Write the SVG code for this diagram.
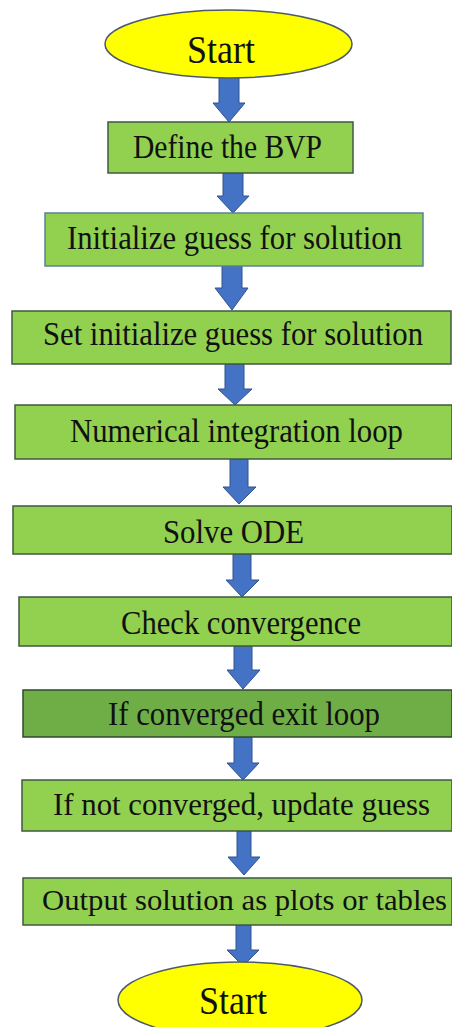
<svg xmlns="http://www.w3.org/2000/svg" width="452" height="1027" viewBox="0 0 452 1027">
<style>
.term{fill:#FFFF00;stroke:#4a5a6a;stroke-width:1.5}
.box{fill:#92D050;stroke:#3f5a40;stroke-width:1.5}
.box2{fill:#92D050;stroke:#5b819b;stroke-width:1.5}
.dark{fill:#6FAD47;stroke:#2f4a2f;stroke-width:1.5}
.arr{fill:#4472C4;stroke:#2F528F;stroke-width:1}
.t{font-family:"Liberation Serif","Times New Roman",serif;fill:#111;font-size:33px}
.ts{font-size:39px}
.tm{font-size:31px}
.tn{font-size:30px}
</style>
<rect width="452" height="1027" fill="#ffffff"/>
<g id="connectors">
<path class="arr" d="M219,77 H239 V103 H245 L229,122 L213,103 H219 Z"/>
<path class="arr" d="M223,173 H243 V196 H249 L233,213 L217,196 H223 Z"/>
<path class="arr" d="M222,266 H242 V288 H248 L232,310 L215,288 H222 Z"/>
<path class="arr" d="M225,364 H244 V389 H252 L235,405 L218,389 H225 Z"/>
<path class="arr" d="M230,459 H248 V487 H256 L239,504 L223,487 H230 Z"/>
<path class="arr" d="M233,554 H251 V580 H259 L242,597 L226,580 H233 Z"/>
<path class="arr" d="M234,646 H252 V670 H260 L243,689 L227,670 H234 Z"/>
<path class="arr" d="M234,737 H252 V763 H259 L243,780 L227,763 H234 Z"/>
<path class="arr" d="M237,831 H251 V857 H260 L244,875 L228,857 H237 Z"/>
<path class="arr" d="M236,925 H251 V950 H259 L243,966 L227,950 H236 Z"/>
</g>
<g id="start-top">
<ellipse class="term" cx="228.5" cy="44" rx="123.5" ry="34"/>
<text class="t ts" x="187" y="63" textLength="68" lengthAdjust="spacingAndGlyphs">Start</text>
</g>
<g id="define-bvp">
<rect class="box" x="108" y="122" width="245" height="51"/>
<text class="t" x="133" y="158" textLength="189" lengthAdjust="spacingAndGlyphs">Define the BVP</text>
</g>
<g id="initialize-guess">
<rect class="box2" x="45" y="213" width="378" height="53"/>
<text class="t" x="67" y="249" textLength="335" lengthAdjust="spacingAndGlyphs">Initialize guess for solution</text>
</g>
<g id="set-initialize-guess">
<rect class="box" x="12" y="311" width="439" height="53"/>
<text class="t" x="43" y="345" textLength="380" lengthAdjust="spacingAndGlyphs">Set initialize guess for solution</text>
</g>
<g id="numerical-loop">
<rect class="box" x="15" y="405" width="437" height="54"/>
<text class="t" x="70" y="442" textLength="333" lengthAdjust="spacingAndGlyphs">Numerical integration loop</text>
</g>
<g id="solve-ode">
<rect class="box" x="13" y="506" width="439" height="48"/>
<text class="t" x="163" y="543" textLength="141" lengthAdjust="spacingAndGlyphs">Solve ODE</text>
</g>
<g id="check-convergence">
<rect class="box" x="19" y="597" width="433" height="49"/>
<text class="t" x="121" y="634" textLength="240" lengthAdjust="spacingAndGlyphs">Check convergence</text>
</g>
<g id="converged-exit">
<rect class="dark" x="23" y="690" width="429" height="47"/>
<text class="t" x="108" y="725" textLength="272" lengthAdjust="spacingAndGlyphs">If converged exit loop</text>
</g>
<g id="update-guess">
<rect class="box" x="22" y="780" width="430" height="51"/>
<text class="t tm" x="53" y="815" textLength="377" lengthAdjust="spacingAndGlyphs">If not converged, update guess</text>
</g>
<g id="output-solution">
<rect class="box" x="23" y="878" width="429" height="47"/>
<text class="t tn" x="42" y="910" textLength="405" lengthAdjust="spacingAndGlyphs">Output solution as plots or tables</text>
</g>
<g id="start-bottom">
<ellipse class="term" cx="240" cy="1000" rx="122" ry="38"/>
<text class="t ts" x="199" y="1014" textLength="68" lengthAdjust="spacingAndGlyphs">Start</text>
</g>
</svg>
